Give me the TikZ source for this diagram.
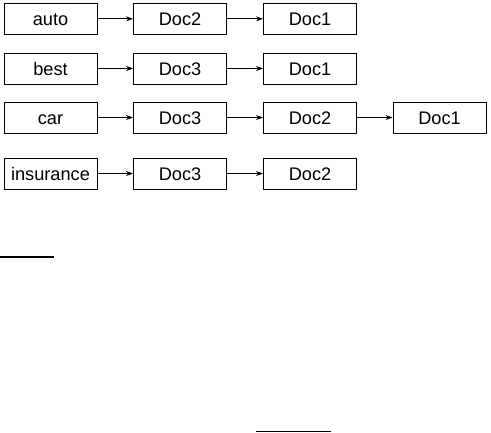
\documentclass[tikz,border=0pt]{standalone}
\usepackage{fontspec}
\setmainfont{Liberation Sans}
\usetikzlibrary{arrows.meta}
\begin{document}
\begin{tikzpicture}[x=1pt,y=-1pt,
  box/.style={draw,line width=0.9pt,rectangle,minimum width=93pt,minimum height=31pt,inner sep=0pt,text height=16pt,text depth=2pt,font=\fontsize{18.2}{21}\selectfont},
  link/.style={draw,line width=0.9pt,-{Stealth[length=7pt,width=5pt]}},
  rule/.style={line width=1.4pt}]
\useasboundingbox (0,0) rectangle (491,432);
\node[box] (a1) at (50.5,18.8) {auto};
\node[box] (a2) at (180,18.8) {Doc2};
\node[box] (a3) at (310,18.8) {Doc1};
\node[box] (b1) at (50.5,68.5) {best};
\node[box] (b2) at (180,68.5) {Doc3};
\node[box] (b3) at (310,68.5) {Doc1};
\node[box] (c1) at (50.5,117.5) {car};
\node[box] (c2) at (180,117.5) {Doc3};
\node[box] (c3) at (310,117.5) {Doc2};
\node[box] (c4) at (439.5,117.5) {Doc1};
\node[box] (d1) at (50.5,173.5) {insurance};
\node[box] (d2) at (180,173.5) {Doc3};
\node[box] (d3) at (310,173.5) {Doc2};
\draw[link] (a1) -- (a2);
\draw[link] (a2) -- (a3);
\draw[link] (b1) -- (b2);
\draw[link] (b2) -- (b3);
\draw[link] (c1) -- (c2);
\draw[link] (c2) -- (c3);
\draw[link] (c3) -- (c4);
\draw[link] (d1) -- (d2);
\draw[link] (d2) -- (d3);
\coordinate (r1a) at (0,257);
\coordinate (r1b) at (54,257);
\coordinate (r2a) at (256,431.2);
\coordinate (r2b) at (331,431.2);
\draw[rule] (r1a) -- (r1b);
\draw[rule] (r2a) -- (r2b);
\end{tikzpicture}
\end{document}
